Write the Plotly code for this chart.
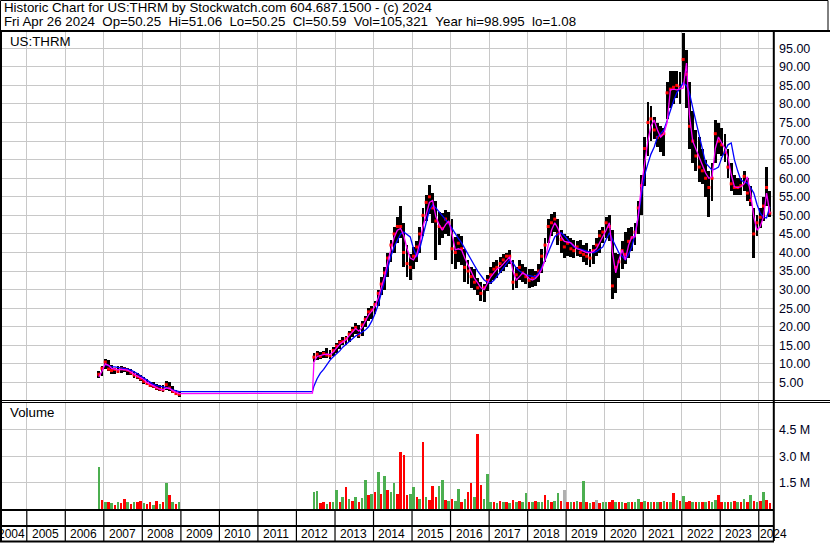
import plotly.graph_objects as go

W, H = 830, 543

# ---- monthly price data, first block Nov 2006 .. Dec 2008 ----
high_a = [8.0, 9.5, 11.2, 11.0, 9.8, 9.0, 9.4, 9.3, 9.2, 8.9, 8.6, 8.0, 7.6,
          7.0, 6.5, 6.0, 5.2, 5.0, 4.5, 4.3, 4.2, 5.3, 5.0, 4.0, 3.0, 2.5]
low_a = [6.2, 6.8, 8.6, 8.0, 7.2, 7.4, 7.6, 7.5, 7.8, 7.1, 7.0, 6.3, 5.8,
         5.4, 4.6, 4.3, 3.8, 3.5, 3.0, 2.6, 2.5, 3.0, 2.8, 2.2, 1.5, 1.1]
close_a = [7.2, 8.8, 10.5, 8.6, 8.2, 8.5, 8.0, 8.7, 8.6, 8.3, 7.6, 7.0, 6.5,
           6.0, 5.3, 4.7, 4.2, 4.0, 3.5, 3.2, 3.0, 4.4, 3.5, 2.6, 2.0, 1.8]
ma_short_a = [6.5, 8.0, 10.0, 9.6, 8.8, 8.6, 8.4, 8.5, 8.5, 8.3, 7.8, 7.2, 6.7,
              6.3, 5.8, 5.0, 4.5, 4.0, 3.6, 3.2, 3.0, 3.5, 3.4, 2.8, 2.3, 2.0]
ma_long_a = [None, None, 9.8, 9.4, 9.2, 9.2, 9.1, 9.0, 8.8, 8.6, 8.3, 7.9, 7.4,
             6.8, 6.2, 5.6, 5.0, 4.5, 4.2, 4.0, 3.9, 3.7, 3.4, 3.0, 2.7, 2.5]
vol_a = [2.41, 0.55, 0.45, 0.4, 0.35, 0.25, 0.4, 0.35, 0.62, 0.42, 0.3, 0.45, 0.4,
         0.5, 0.35, 0.3, 0.4, 0.25, 0.5, 0.3, 0.45, 1.5, 0.8, 0.4, 0.3, 0.42]
dir_a = "grgrgrgrrgrgrrgrrgrgrgrgrg"

# flat moving-average level while the stock had no quotes (2009 - mid 2012)
gap_short, gap_long = 2.1, 2.5

# ---- second block Jun 2012 .. Apr 2024 ----
high_b = [
    12.8, 13.6, 13.3, 13.4, 14.2, 13.7, 14.5,
    15.5, 16.5, 17.2, 17.5, 18.8, 20.0, 21.0, 20.5, 21.5, 23.0, 25.0, 25.5,
    27.0, 30.0, 33.5, 36.0, 40.0, 43.5, 47.0, 49.5, 52.5, 48.0, 42.0, 39.5,
    41.5, 43.0, 47.0, 52.0, 55.5, 58.2, 56.0, 54.0, 51.0, 50.6, 51.5, 51.0,
    49.0, 44.2, 45.0, 44.5, 41.0, 38.0, 36.0, 35.5, 33.0, 32.0, 31.5, 34.0,
    36.0, 37.5, 38.0, 38.8, 39.5, 40.0, 40.7, 38.0, 36.0, 38.0, 37.0, 36.0,
    35.5, 35.5, 35.0, 37.0, 41.0, 44.0, 49.0, 50.5, 51.0, 49.0, 46.0, 45.0,
    44.5, 44.0, 43.5, 43.0, 43.4, 42.0, 42.5, 41.0, 42.0, 44.0, 46.0, 47.0,
    49.5, 50.2, 46.0, 40.0, 39.5, 43.0, 45.5, 46.5, 47.0, 48.0, 54.0, 61.0,
    71.0, 80.5, 79.5, 76.5, 75.0, 74.0, 73.5, 86.0, 89.0, 89.0, 89.0, 88.5,
    99.0, 94.5, 86.0, 78.0, 73.0, 71.0, 68.0, 65.0, 62.0, 64.0, 75.7, 75.0,
    73.5, 72.0, 68.0, 64.0, 61.0, 60.0, 60.0, 62.0, 60.0, 58.0, 52.0, 50.0,
    52.0, 55.0, 63.0, 56.5,
]
low_b = [
    10.6, 11.0, 11.2, 11.5, 11.6, 11.3, 12.0,
    13.0, 14.0, 15.0, 15.2, 16.0, 17.2, 18.0, 17.0, 17.5, 19.8, 21.5, 22.0,
    23.5, 25.5, 28.5, 30.0, 33.5, 37.5, 40.0, 42.5, 44.0, 36.0, 33.5, 32.5,
    35.5, 37.5, 40.0, 44.5, 48.5, 50.5, 48.0, 38.0, 42.0, 44.0, 45.0, 44.5,
    37.0, 35.5, 37.5, 36.5, 32.0, 31.5, 30.5, 30.0, 28.5, 27.0, 26.8, 29.5,
    31.5, 32.5, 33.0, 34.5, 35.0, 36.0, 37.0, 30.0, 30.5, 32.5, 32.0, 31.5,
    30.5, 30.7, 31.0, 32.0, 34.5, 37.5, 42.5, 44.5, 45.5, 42.0, 40.0, 38.5,
    39.0, 38.8, 38.5, 39.0, 38.8, 37.5, 36.5, 36.0, 37.0, 39.0, 40.0, 42.5,
    44.0, 43.0, 27.5, 29.0, 33.0, 35.5, 37.0, 38.5, 40.5, 42.0, 45.0, 50.0,
    58.0, 66.0, 70.0, 70.5, 68.5, 67.0, 66.0, 76.0, 79.0, 80.0, 81.5, 80.0,
    85.5, 79.0, 68.0, 64.0, 62.0, 59.0, 58.5, 55.0, 49.5, 54.0, 64.0, 66.5,
    66.0, 64.5, 60.0, 56.5, 55.5, 55.5, 55.5, 56.5, 54.0, 52.5, 38.5, 44.5,
    46.5, 48.5, 52.5, 49.5,
]
close_b = [
    11.8, 12.6, 12.0, 12.8, 12.4, 12.2, 13.6,
    14.8, 15.8, 16.0, 16.8, 18.0, 19.0, 19.8, 17.8, 20.5, 22.0, 24.0, 24.5,
    26.0, 29.0, 31.5, 34.5, 38.5, 42.0, 45.0, 47.0, 47.0, 40.0, 37.0, 36.0,
    39.0, 41.5, 45.0, 50.0, 53.5, 55.0, 52.0, 48.5, 47.0, 46.5, 49.0, 48.0,
    41.0, 40.0, 42.5, 41.0, 36.0, 35.0, 33.5, 32.0, 30.5, 29.0, 30.5, 32.5,
    34.0, 35.5, 36.0, 37.0, 38.0, 39.0, 39.0, 32.0, 34.0, 36.0, 34.5, 33.5,
    32.5, 33.0, 33.5, 35.0, 39.0, 42.0, 47.0, 48.0, 49.0, 45.0, 43.5, 41.5,
    42.5, 41.0, 40.5, 41.5, 40.0, 39.5, 39.0, 38.5, 40.5, 42.0, 44.5, 45.5,
    48.0, 47.0, 31.0, 36.0, 37.5, 40.5, 39.5, 43.0, 44.0, 45.5, 52.0, 58.0,
    68.0, 75.0, 76.0, 73.0, 71.0, 71.5, 72.0, 83.0, 84.0, 84.5, 85.0, 84.5,
    92.0, 88.0, 74.0, 70.0, 66.0, 63.0, 62.0, 60.0, 57.5, 60.0, 72.0, 70.0,
    69.0, 67.0, 63.0, 58.5, 57.5, 57.5, 58.0, 60.5, 56.0, 54.0, 45.0, 48.0,
    49.5, 52.5, 57.5, 50.59,
]
ma_short_b = [
    10.5, 12.0, 12.3, 12.5, 12.6, 12.5, 13.2,
    14.3, 15.3, 15.9, 16.5, 17.6, 18.7, 19.5, 18.8, 19.8, 21.5, 23.2, 24.2,
    25.5, 27.8, 30.5, 33.5, 37.5, 41.0, 44.0, 46.0, 46.5, 44.5, 41.0, 38.5,
    38.0, 39.5, 42.6, 47.0, 50.6, 53.5, 54.0, 49.6, 47.5, 46.0, 47.5, 48.5,
    45.0, 40.7, 41.0, 40.7, 38.5, 36.5, 35.0, 33.0, 31.8, 30.5, 30.0, 31.5,
    33.4, 34.5, 35.5, 36.0, 37.0, 38.0, 38.8, 35.0, 32.6, 33.5, 34.5, 34.0,
    33.0, 32.6, 33.0, 34.0, 35.5, 38.0, 42.0, 46.0, 48.0, 46.5, 44.2, 43.0,
    42.8, 42.6, 41.8, 41.0, 40.7, 40.3, 40.0, 39.9, 40.3, 41.0, 42.6, 44.0,
    46.0, 48.0, 40.0, 34.5, 38.0, 40.7, 38.0, 42.0, 44.2, 44.2, 50.0, 58.0,
    64.0, 70.3, 74.0, 75.7, 73.0, 71.1, 72.0, 75.0, 83.8, 84.0, 83.8, 84.0,
    84.3, 91.0, 77.0, 70.0, 68.0, 65.7, 63.5, 61.4, 60.0, 60.4, 68.0, 71.1,
    69.5, 68.0, 65.7, 61.0, 57.7, 57.5, 57.7, 58.5, 60.4, 56.0, 49.6, 46.0,
    47.0, 49.6, 56.0, 50.6,
]
ma_long_b = [
    4.0, 6.0, 7.5, 8.5, 9.8, 11.0, 11.9,
    12.7, 13.5, 14.5, 15.3, 16.0, 16.8, 17.5, 18.0, 18.6, 19.1, 20.0, 21.5,
    23.5, 26.0, 29.0, 32.6, 36.0, 39.0, 41.5, 43.5, 45.0, 45.5, 44.8, 44.2,
    41.0, 38.8, 41.0, 44.2, 48.0, 51.5, 52.8, 52.0, 51.0, 50.0, 48.8, 47.8,
    46.5, 45.0, 43.8, 42.6, 41.0, 39.5, 38.0, 36.5, 35.0, 33.8, 32.6, 32.0,
    31.8, 32.5, 33.5, 34.5, 35.8, 37.0, 38.0, 37.2, 35.8, 35.0, 34.5, 34.0,
    33.8, 33.5, 33.4, 34.5, 36.0, 38.0, 40.0, 42.0, 44.2, 45.0, 45.3, 44.5,
    43.5, 42.5, 41.5, 41.2, 41.0, 40.7, 40.4, 40.1, 39.9, 40.3, 40.8, 41.5,
    43.5, 45.3, 43.5, 41.5, 39.9, 39.0, 38.0, 39.5, 41.5, 45.0, 49.6, 55.5,
    61.0, 64.0, 66.5, 68.4, 71.1, 72.0, 73.0, 75.5, 78.4, 80.8, 83.0, 84.5,
    85.7, 85.0, 83.0, 79.0, 75.5, 72.2, 68.0, 64.1, 63.0, 62.2, 62.5, 63.0,
    65.5, 67.6, 69.0, 69.5, 65.0, 62.0, 59.5, 59.0, 58.7, 57.5, 56.0, 53.0,
    50.6, 49.5, 49.3, 52.3,
]
# volume in millions of shares
vol_b = [
    1.0, 1.05, 0.35, 0.4, 0.3, 0.4, 0.45,
    1.1, 0.4, 0.7, 1.28, 0.6, 0.5, 0.7, 0.45, 0.65, 1.66, 0.8, 0.9,
    1.0, 2.13, 0.9, 1.9, 1.1, 1.0, 1.49, 0.9, 3.26, 3.07, 0.8, 0.85,
    1.25, 0.7, 0.6, 3.82, 0.7, 0.55, 1.32, 0.7, 1.32, 1.66, 0.55, 0.5,
    0.6, 0.5, 1.14, 0.45, 0.6, 1.0, 1.51, 0.7, 4.23, 1.38, 0.6, 2.0,
    0.4, 0.45, 0.35, 0.5, 0.4, 0.45, 0.35, 0.55, 0.4, 0.5, 0.4, 0.95,
    0.45, 0.4, 0.5, 0.4, 0.45, 0.82, 0.55, 0.45, 0.5, 0.95, 0.5, 1.1,
    0.4, 0.45, 0.4, 0.5, 0.4, 1.62, 0.4, 0.35, 0.45, 0.55, 0.35, 0.4,
    0.45, 0.4, 0.55, 0.45, 0.4, 0.45, 0.35, 0.4, 0.45, 0.4, 0.6, 0.45,
    0.5, 0.4, 0.45, 0.4, 0.45, 0.4, 0.5, 0.45, 0.45, 0.95, 0.55, 0.5,
    0.75, 0.45, 0.5, 0.4, 0.45, 0.4, 0.45, 0.4, 0.5, 0.45, 0.55, 0.82,
    0.45, 0.4, 0.45, 0.4, 0.5, 0.45, 0.4, 0.6, 0.45, 0.82, 0.5, 0.45,
    0.5, 1.0, 0.55, 0.35,
]
# g = up day (green), r = down (red), n = unchanged (grey)
dir_b = ("ggrrgrg" "grgrgrgrggrg" "rgrgrggrrrrg" "grgrgrrrggrg" "rggrgrrgrrgg"
         "grgrgrgrgrgg" "rgrggrgrggrn" "rgrgrgrgrnrg" "grrgrgrgrggr" "grgrgrgrgrgr"
         "grrgrgrgrggr" "rgrgrgrgrgrg" "rgrr")

price_ticks = [5, 10, 15, 20, 25, 30, 35, 40, 45, 50, 55, 60, 65, 70, 75, 80, 85, 90, 95]
vol_ticks = [1.5, 3.0, 4.5]
years = list(range(2004, 2025))

header_1 = "Historic Chart for US:THRM by Stockwatch.com 604.687.1500 - (c) 2024"
header_2 = ("Fri Apr 26 2024  Op=50.25  Hi=51.06  Lo=50.25  Cl=50.59  "
            "Vol=105,321  Year hi=98.995  lo=1.08").replace("  ", "\u00a0\u00a0")


def month_list(year, month, count):
    out = []
    for _ in range(count):
        out.append(f"{year}-{month:02d}-15")
        month += 1
        if month > 12:
            month, year = 1, year + 1
    return out


def px(x):
    return x / W


def py(y):
    return 1 - y / H


dates = month_list(2006, 11, len(high_a)) + month_list(2012, 6, len(high_b))
high = high_a + high_b
low = low_a + low_b
close = close_a + close_b
vol = vol_a + vol_b
dirs = dir_a + dir_b
ma_dates = month_list(2006, 11, len(high_a)) + ["2012-06-01"] + month_list(2012, 6, len(high_b))
ma_short = ma_short_a + [gap_short] + ma_short_b
ma_long = ma_long_a + [gap_long] + ma_long_b

DAY = 86400000
vol_colors = {"g": "#4caf50", "r": "#ff0000", "n": "#b0b0b0"}
FONT = "Liberation Sans, Arial, sans-serif"

fig = go.Figure()
fig.add_trace(go.Bar(x=dates, y=[h - l for h, l in zip(high, low)], base=low,
                     width=27 * DAY, marker=dict(color="black", line_width=0),
                     xaxis="x", yaxis="y"))
fig.add_trace(go.Scatter(x=dates, y=close, mode="markers",
                         marker=dict(symbol="square", size=3, color="#ff0000"),
                         xaxis="x", yaxis="y"))
fig.add_trace(go.Scatter(x=ma_dates, y=ma_long, mode="lines",
                         line=dict(color="#0000ff", width=1.3), xaxis="x", yaxis="y"))
fig.add_trace(go.Scatter(x=ma_dates, y=ma_short, mode="lines",
                         line=dict(color="#ff00ff", width=1.3), xaxis="x", yaxis="y"))
fig.add_trace(go.Bar(x=dates, y=vol, width=24 * DAY,
                     marker=dict(color=[vol_colors[d] for d in dirs], line_width=0),
                     xaxis="x2", yaxis="y2"))

x_range = ["2004-05-11", "2024-05-15"]
grid = "#c8c8c8"
xcommon = dict(domain=[px(2), px(773)], range=x_range, type="date",
               tickvals=[f"{y}-01-01" for y in years[1:]], showticklabels=False,
               showgrid=True, gridcolor=grid, gridwidth=1, ticks="",
               zeroline=False, showline=False)
tickfont = dict(family=FONT, size=12.5, color="#000022")

fig.update_layout(
    width=W, height=H, margin=dict(l=0, r=0, t=0, b=0),
    paper_bgcolor="white", plot_bgcolor="white", showlegend=False,
    barmode="overlay", bargap=0,
    xaxis=dict(anchor="y", **xcommon),
    xaxis2=dict(anchor="y2", matches="x", **xcommon),
    yaxis=dict(domain=[py(401), py(31)], range=[0, 99.66], side="right",
               tickvals=price_ticks, ticktext=[f"{v:.2f}" for v in price_ticks],
               showgrid=True, gridcolor=grid, zeroline=False, ticks="",
               tickfont=tickfont, ticklabelstandoff=5),
    yaxis2=dict(domain=[py(509.5), py(403)], range=[0, 6.0], side="right",
                tickvals=vol_ticks, ticktext=[f"{v:.1f} M" for v in vol_ticks],
                showgrid=True, gridcolor=grid, zeroline=False, ticks="",
                tickfont=tickfont, ticklabelstandoff=5),
)

annotations = [
    dict(text=header_1, x=px(2), y=py(7.5)),
    dict(text=header_2, x=px(2), y=py(21)),
    dict(text="US:THRM", x=px(8), y=py(41.5)),
    dict(text="Volume", x=px(8), y=py(413)),
]
for a in annotations:
    a.update(xref="paper", yref="paper", xanchor="left", yanchor="middle",
             showarrow=False, font=dict(family=FONT, size=13.3, color="black"))
for y in years:
    if y == 2004:
        # only the tail of 2004 is on the chart, label sits against the 2005 line
        xpos, anchor = "2004-12-31", "right"
    elif y == 2024:
        xpos, anchor = "2023-12-28", "left"
    else:
        xpos, anchor = f"{y}-06-25", "center"
    annotations.append(dict(
        text=str(y), x=xpos, xanchor=anchor, y=py(534), xref="x", yref="paper",
        yanchor="middle", showarrow=False,
        font=dict(family=FONT, size=12, color="black")))
fig.update_layout(annotations=annotations)

line = dict(color="black", width=1)
shapes = [
    dict(type="rect", x0=px(0.5), x1=px(828), y0=py(0.5), y1=py(31), line=line),
    dict(type="line", x0=0, x1=1, y0=py(31), y1=py(31), line=dict(color="black", width=2)),
    dict(type="line", x0=px(1), x1=px(1), y0=py(31), y1=py(542), line=dict(color="black", width=2)),
    dict(type="line", x0=px(773.8), x1=px(773.8), y0=py(31), y1=py(541),
         line=dict(color="black", width=2)),
    dict(type="line", x0=0, x1=1, y0=py(400.5), y1=py(400.5), line=line),
    dict(type="line", x0=0, x1=1, y0=py(402.5), y1=py(402.5), line=line),
    dict(type="line", x0=0, x1=px(774), y0=py(510), y1=py(510), line=dict(color="black", width=2)),
    dict(type="line", x0=0, x1=px(774), y0=py(526), y1=py(526), line=dict(color="black", width=2)),
    dict(type="line", x0=0, x1=px(774), y0=py(541.5), y1=py(541.5), line=dict(color="black", width=2)),
]
for y in years[1:]:
    shapes.append(dict(type="line", xref="x", yref="paper", x0=f"{y}-01-01", x1=f"{y}-01-01",
                       y0=py(510), y1=py(541.5), line=dict(color="black", width=1.2)))
for s in shapes:
    s.setdefault("xref", "paper")
    s.setdefault("yref", "paper")
fig.update_layout(shapes=shapes)

# the browser's default 8px body margin would shift the whole chart
fig.write_html("out.html", config={"displayModeBar": False},
               post_script="document.body.style.margin='0';"
               "document.body.style.overflow='hidden';")
